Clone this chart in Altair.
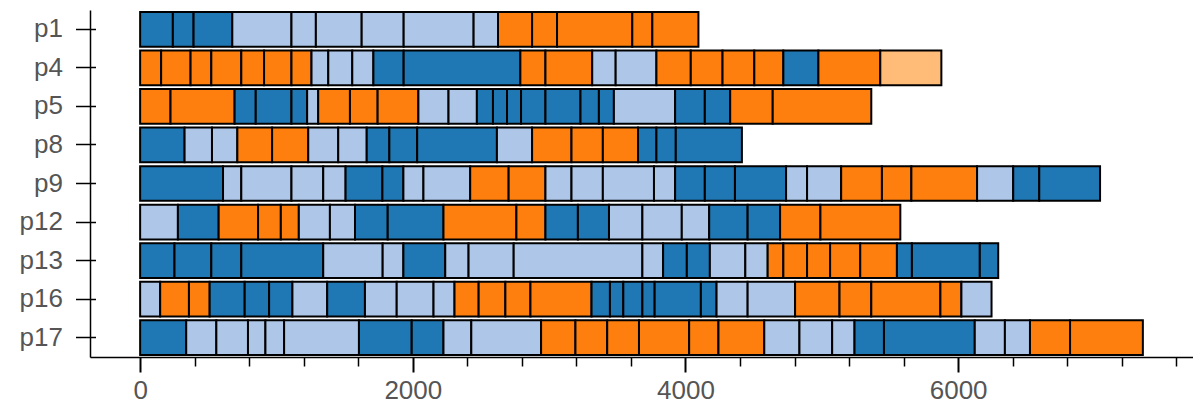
import altair as alt
import pandas as pd

rows = ["p1", "p4", "p5", "p8", "p9", "p12", "p13", "p16", "p17"]

# segment boundaries per row (start of first segment .. end of last) and segment kinds
# D = dark blue, L = light blue, O = orange, Q = light orange
p1_bounds = [0, 240, 392, 676, 1110, 1289, 1625, 1933, 2446, 2625, 2875, 3058, 3610, 3757, 4095]
p1_kinds = "DDDLLLLLLOOOOO"
p4_bounds = [0, 154, 370, 522, 742, 909, 1110, 1257, 1380, 1556, 1711, 1933, 2789, 2973, 3316,
             3488, 3787, 4039, 4272, 4505, 4718, 4975, 5429, 5877]
p4_kinds = "OOOOOOOLLLDDOOLLOOOODOQ"
p5_bounds = [0, 223, 693, 848, 1110, 1225, 1306, 1539, 1742, 2041, 2262, 2470, 2588, 2691, 2794,
             2973, 3230, 3365, 3475, 3924, 4142, 4328, 4640, 5363]
p5_kinds = "OODDDLOOOLLDDDDDDDLDDOO"
p8_bounds = [0, 326, 527, 713, 968, 1233, 1453, 1662, 1828, 2032, 2617, 2875, 3164, 3394, 3652,
             3787, 3929, 4414]
p8_kinds = "DLLOOLLDDDLOOODDD"
p9_bounds = [0, 608, 742, 1110, 1343, 1507, 1777, 1931, 2078, 2421, 2703, 2973, 3164, 3394, 3769,
             3924, 4142, 4363, 4738, 4892, 5142, 5441, 5657, 6139, 6404, 6595, 7041]
p9_kinds = "DLLLLDDLLOOLLLLDDDLLOOOLDD"
p12_bounds = [0, 277, 576, 865, 1032, 1164, 1392, 1576, 1816, 2225, 2760, 2973, 3211, 3439, 3684,
              3973, 4174, 4456, 4694, 4990, 5576]
p12_kinds = "LDOOOLLDDOODDLLLDDOO"
p13_bounds = [0, 252, 522, 742, 1343, 1779, 1931, 2238, 2409, 2740, 3684, 3836, 4010, 4179, 4439,
              4603, 4718, 4892, 5061, 5282, 5551, 5661, 6159, 6294]
p13_kinds = "DDDDLLDLLLLDDLLOOOOODDD"
p16_bounds = [0, 147, 358, 510, 767, 946, 1117, 1372, 1649, 1882, 2152, 2306, 2483, 2679, 2863,
              3311, 3446, 3544, 3684, 3774, 4113, 4228, 4456, 4804, 5130, 5363, 5870, 6024, 6245]
p16_kinds = "LOODDDLDLLLOOOODDDDDDLLOOOOL"
p17_bounds = [0, 338, 559, 791, 919, 1056, 1605, 1992, 2225, 2429, 2941, 3193, 3426, 3659, 4027,
              4242, 4578, 4836, 5076, 5240, 5456, 6122, 6343, 6527, 6821, 7355]
p17_kinds = "DLLLLLDDLLOOOOOOLLLDDLLOO"

kind_names = {"D": "dark blue", "L": "light blue", "O": "orange", "Q": "light orange"}
kind_order = ["dark blue", "light blue", "orange", "light orange"]
kind_colors = ["#1f77b4", "#aec7e8", "#ff7f0e", "#ffbb78"]

all_bounds = [p1_bounds, p4_bounds, p5_bounds, p8_bounds, p9_bounds,
              p12_bounds, p13_bounds, p16_bounds, p17_bounds]
all_kinds = [p1_kinds, p4_kinds, p5_kinds, p8_kinds, p9_kinds,
             p12_kinds, p13_kinds, p16_kinds, p17_kinds]

records = []
for r, b, k in zip(rows, all_bounds, all_kinds):
    for i, c in enumerate(k):
        records.append({"row": r, "start": b[i], "end": b[i + 1], "kind": kind_names[c]})
df = pd.DataFrame(records)

xmax = df["end"].max()
margin = 0.05 * xmax
x_scale = alt.Scale(domain=[-margin, xmax + margin], nice=False, zero=False)
y_scale = alt.Scale(domain=rows, paddingInner=0.1, paddingOuter=0.05)

FONT = "Liberation Sans"
LABEL_COLOR = "#555555"

x_axis = alt.Axis(
    title=None,
    values=list(range(0, 7601, 400)),
    labelExpr="datum.value % 2000 === 0 ? datum.label : ''",
    format="d",
    labelFlush=False,
    labelFont=FONT,
    labelFontSize=26,
    labelColor=LABEL_COLOR,
    labelPadding=5,
    domainColor="black",
    domainWidth=1.5,
    tickColor="black",
    tickSize={"condition": {"test": "datum.value % 2000 === 0", "value": 15}, "value": 9},
    tickWidth={"condition": {"test": "datum.value % 2000 === 0", "value": 2}, "value": 1.5},
    grid=False,
)

bars = alt.Chart(df).mark_bar(stroke="black", strokeWidth=2, opacity=1).encode(
    x=alt.X("start:Q", scale=x_scale, axis=x_axis),
    x2="end:Q",
    y=alt.Y("row:N", sort=rows, scale=y_scale,
            axis=alt.Axis(title=None, orient="left", domain=False, tickSize=20, offset=-5.5,
                          tickColor="black", tickWidth=1.5, labelPadding=13,
                          labelFont=FONT, labelFontSize=26, labelColor=LABEL_COLOR, grid=False)),
    color=alt.Color("kind:N", scale=alt.Scale(domain=kind_order, range=kind_colors), legend=None),
)

yline = alt.Chart(df).mark_bar(opacity=0).encode(
    x=alt.X("start:Q", scale=x_scale, axis=x_axis),
    x2="end:Q",
    y=alt.Y("row:N", sort=rows, scale=y_scale,
            axis=alt.Axis(title=None, orient="left", labels=False, ticks=False, domain=True,
                          domainColor="black", domainWidth=1.5, grid=False)),
)

chart = alt.layer(bars, yline).resolve_axis(y="independent").properties(
    width=1103, height=347,
    padding={"left": 11, "top": 2, "right": 0, "bottom": 0},
).configure_view(stroke=None)

chart.save("out.html", embed_options={"renderer": "svg", "actions": False})
